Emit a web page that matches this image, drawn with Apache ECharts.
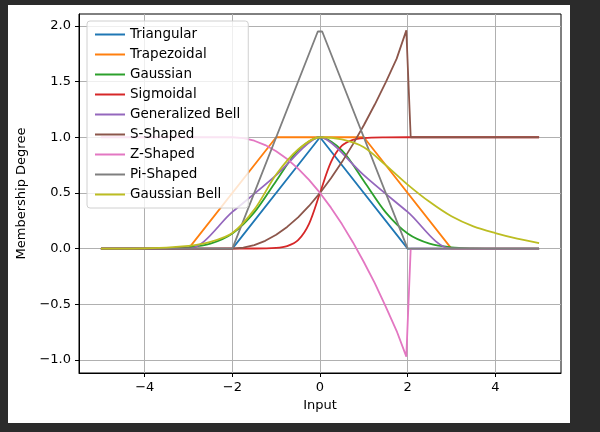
<!DOCTYPE html>
<html><head><meta charset="utf-8">
<script src="https://cdn.jsdelivr.net/npm/echarts@6/dist/echarts.min.js"></script>
<style>
html,body{margin:0;padding:0;background:#2b2b2b;width:600px;height:432px;overflow:hidden}
#fig{position:absolute;left:8px;top:5px;width:562px;height:418px;background:#fff}
#c{position:absolute;left:0;top:0;width:600px;height:432px}
</style></head><body>
<div id="fig"></div><div id="c"></div>
<script>
const seriesNames = ["Triangular","Trapezoidal","Gaussian","Sigmoidal","Generalized Bell","S-Shaped","Z-Shaped","Pi-Shaped","Gaussian Bell"];
const colors = ["#1f77b4","#ff7f0e","#2ca02c","#d62728","#9467bd","#8c564b","#e377c2","#7f7f7f","#bcbd22"];
const xTicks = [-4,-2,0,2,4];
const yTicks = [-1.0,-0.5,0.0,0.5,1.0,1.5,2.0];

const triangular = [[-5,0],[-2,0],[0,1],[2,0],[5,0]];
const trapezoidal = [[-5,0],[-3,0],[-1,1],[1,1],[3,0],[5,0]];
const gaussian = [[-5,0],[-4,0.0003],[-3.5,0.002],[-3,0.011],[-2.5,0.044],[-2,0.135],[-1.5,0.325],[-1,0.607],[-0.5,0.882],[0,1],[0.5,0.882],[1,0.607],[1.5,0.325],[2,0.135],[2.5,0.044],[3,0.011],[3.5,0.002],[4,0.0003],[5,0]];
const sigmoidal = [[-5,0],[-1.5,0.001],[-1,0.007],[-0.75,0.023],[-0.5,0.076],[-0.25,0.223],[0,0.5],[0.25,0.777],[0.5,0.924],[0.75,0.977],[1,0.993],[1.5,0.999],[2,1],[5,1]];
const genBell = [[-5,0],[-3,0],[-2,0.33],[-1,0.66],[-0.4,0.9],[-0.15,0.98],[0,1],[0.15,0.98],[0.4,0.9],[1,0.66],[2,0.33],[3,0],[5,0]];
const sShaped = [[-5,0],[-2,0],[-1.75,0.008],[-1.5,0.031],[-1.25,0.07],[-1,0.125],[-0.75,0.195],[-0.5,0.281],[-0.25,0.383],[0,0.5],[0.25,0.632],[0.5,0.777],[0.75,0.936],[1,1.108],[1.25,1.294],[1.5,1.493],[1.75,1.706],[1.97,1.96],[2.07,1],[5,1]];
const zShaped = [[-5,1],[-2,1],[-1.75,0.992],[-1.5,0.969],[-1.25,0.93],[-1,0.875],[-0.75,0.805],[-0.5,0.719],[-0.25,0.617],[0,0.5],[0.25,0.368],[0.5,0.22],[0.75,0.058],[1,-0.12],[1.25,-0.31],[1.5,-0.52],[1.75,-0.74],[1.97,-0.97],[2.07,0],[5,0]];
const piShaped = [[-5,0],[-2,0],[-0.05,1.95],[0.05,1.95],[2,0],[5,0]];
const gaussBell = [[-5,0],[-4,0.002],[-3,0.025],[-2.5,0.06],[-2,0.14],[-1.5,0.35],[-1,0.665],[-0.5,0.89],[0,1],[0.5,0.98],[1,0.91],[1.5,0.75],[2,0.575],[2.5,0.42],[3,0.29],[3.5,0.2],[4,0.14],[4.5,0.09],[5,0.05]];
const seriesData = [triangular,trapezoidal,gaussian,sigmoidal,genBell,sShaped,zShaped,piShaped,gaussBell];
const smoothFlags = [false,false,true,true,true,false,false,false,true];

const chart = echarts.init(document.getElementById('c'));
const axisCommon = {
  axisLine:{onZero:false,lineStyle:{color:'#000',width:1}},
  axisTick:{length:4,lineStyle:{color:'#000'}},
  axisLabel:{color:'#000',fontSize:13,fontFamily:'DejaVu Sans'},
  splitLine:{show:true,lineStyle:{color:'#b0b0b0',width:1}}
};
chart.setOption({
  animation:false,
  grid:{left:79,top:14,width:482,height:359,show:true,borderColor:'#000',borderWidth:1},
  xAxis:Object.assign({type:'value',min:-5.5,max:5.5,name:'Input',nameLocation:'middle',nameGap:26,
    nameTextStyle:{color:'#000',fontSize:13,fontFamily:'DejaVu Sans'}},axisCommon,
    {axisLabel:Object.assign({},axisCommon.axisLabel,{customValues:xTicks,formatter:v=>String(v).replace('-','\u2212')}),
     axisTick:Object.assign({},axisCommon.axisTick,{customValues:xTicks}),
     splitLine:Object.assign({},axisCommon.splitLine,{customValues:xTicks})}),
  yAxis:Object.assign({type:'value',min:-1.117,max:2.107,name:'Membership Degree',nameLocation:'middle',nameGap:48,
    nameTextStyle:{color:'#000',fontSize:13,fontFamily:'DejaVu Sans'}},axisCommon,
    {axisLabel:Object.assign({},axisCommon.axisLabel,{customValues:yTicks,formatter:v=>v.toFixed(1).replace('-','\u2212')}),
     axisTick:Object.assign({},axisCommon.axisTick,{customValues:yTicks}),
     splitLine:Object.assign({},axisCommon.splitLine,{customValues:yTicks})}),
  legend:{orient:'vertical',left:87,top:21,itemWidth:30,itemHeight:2,itemGap:5,icon:'rect',
    backgroundColor:'rgba(255,255,255,0.8)',borderColor:'#d0d0d0',borderWidth:1,borderRadius:3,padding:[6,8,6,8],
    textStyle:{color:'#000',fontSize:13.5,fontFamily:'DejaVu Sans',lineHeight:15},
    data:seriesNames},
  series:seriesNames.map((n,i)=>({name:n,type:'line',data:seriesData[i],showSymbol:false,smooth:smoothFlags[i]?0.3:false,
    lineStyle:{color:colors[i],width:1.8},itemStyle:{color:colors[i]},z:3}))
});
</script></body></html>
